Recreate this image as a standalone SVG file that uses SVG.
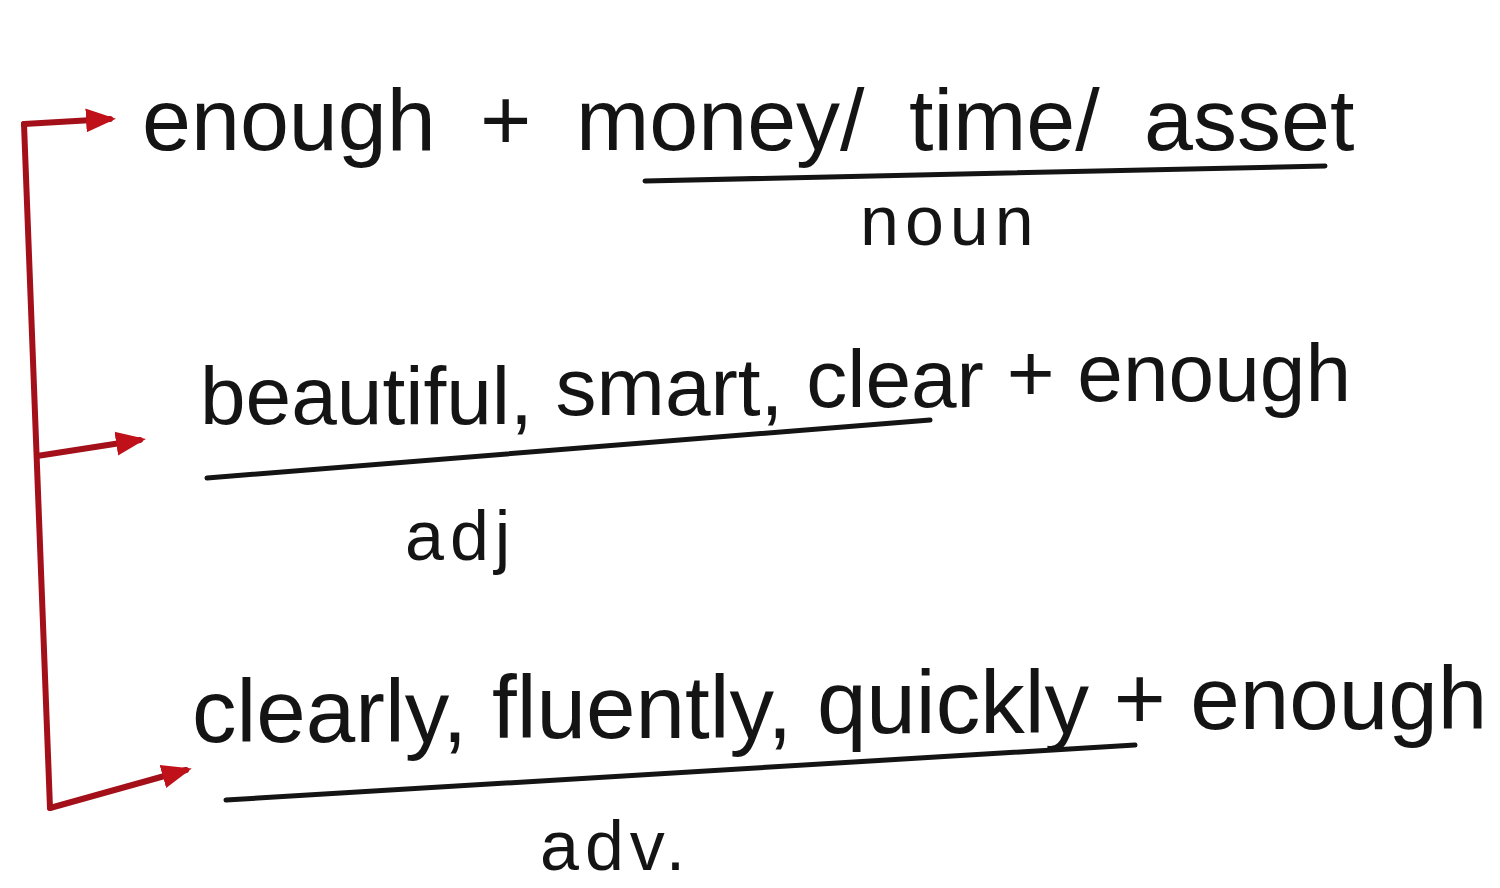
<svg xmlns="http://www.w3.org/2000/svg" width="1500" height="888" viewBox="0 0 1500 888">
<style>
.t{font-family:"Liberation Sans",Arial,sans-serif;fill:#141414}
.l1{font-size:88px;word-spacing:20px}
.l2{font-size:82px}
.l3{font-size:89px}
.s{font-size:70px;letter-spacing:6px}
.u{stroke:#141414;stroke-width:5;stroke-linecap:round;fill:none}
.b{stroke:#a3101a;stroke-width:6;stroke-linecap:round;stroke-linejoin:round;fill:none}
</style>
<defs>
<marker id="ah" viewBox="0 0 10 10" refX="8" refY="5" markerWidth="5" markerHeight="5" orient="auto" markerUnits="strokeWidth">
<path d="M0,1 L10,5 L0,9 Z" fill="#c0101a"/>
</marker>
</defs>
<rect width="1500" height="888" fill="#ffffff"/>
<g id="connectors">
<path class="b" d="M24,124 L50,808"/>
<path class="b" d="M24,124 L110,119" marker-end="url(#ah)"/>
<path class="b" d="M37,456 L140,440" marker-end="url(#ah)"/>
<path class="b" d="M50,808 L186,770" marker-end="url(#ah)"/>
</g>
<g id="node-noun">
<text class="t l1" x="142" y="150">enough + money/ time/ asset</text>
<path class="u" d="M645,181 L1325,166"/>
<text class="t s" x="860" y="245">noun</text>
</g>
<g id="node-adj">
<text class="t l2" x="200" y="424">beautiful, <tspan dy="-9">smart, </tspan><tspan dy="-8">clear </tspan><tspan dy="-6">+ enough</tspan></text>
<path class="u" d="M207,478 L930,420"/>
<text class="t s" x="405" y="560">adj</text>
</g>
<g id="node-adv">
<text class="t l3" x="192" y="742">clearly, <tspan dy="-4">fluently, </tspan><tspan dy="-5">quickly </tspan><tspan dy="-4">+ enough</tspan></text>
<path class="u" d="M226,800 L1135,745"/>
<text class="t s" x="540" y="870">adv.</text>
</g>
</svg>
